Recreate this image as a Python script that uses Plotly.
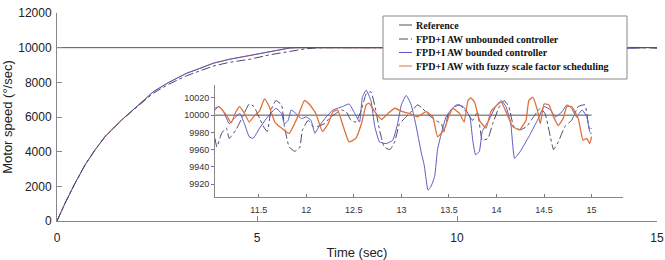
import plotly.graph_objects as go

# ---------------- data ----------------
# start-up transient (main axes)
t_rise = [0, 0.2, 0.45, 0.7, 0.95, 1.2, 1.62, 2.03, 2.41, 2.8, 3.24, 3.57, 3.91, 4.3, 4.82, 5.3, 5.82,
          6.0, 6.2, 6.45, 6.7, 7.5, 8.5, 9.5, 10.5]
rise_bounded = [0, 1020, 2175, 3230, 4100, 4865, 5830, 6690, 7460, 8000, 8520, 8800, 9100, 9320, 9550, 9780, 9980,
                10000, 10000, 10000, 10000, 10000, 10000, 10000, 10000]
rise_fuzzy = [0, 1020, 2175, 3230, 4100, 4870, 5840, 6700, 7470, 8010, 8530, 8810, 9110, 9330, 9560, 9790, 9985,
              10000, 10000, 10000, 10000, 10000, 10000, 10000, 10000]
rise_unbounded = [0, 1020, 2175, 3230, 4100, 4865, 5830, 6660, 7380, 7900, 8380, 8660, 8940, 9150, 9330, 9580, 9800,
                  9880, 9930, 9980, 10000, 10000, 10000, 10000, 10000]

# steady-state detail (inset, t = 11 ... 15 s)
t_fuzzy = [11.04, 11.08, 11.16, 11.21, 11.26, 11.30, 11.35, 11.40, 11.46, 11.51, 11.56, 11.61, 11.67, 11.74,
           11.82, 11.91, 11.98, 12.03, 12.10, 12.17, 12.23, 12.28, 12.33, 12.38, 12.45, 12.52, 12.58, 12.63,
           12.66, 12.72, 12.79, 12.86, 12.93, 13.01, 13.08, 13.17, 13.26, 13.33, 13.38, 13.45, 13.50, 13.54,
           13.61, 13.66, 13.70, 13.73, 13.77, 13.82, 13.89, 13.94, 13.99, 14.05, 14.10, 14.17, 14.24, 14.31,
           14.34, 14.38, 14.43, 14.46, 14.50, 14.55, 14.60, 14.65, 14.70, 14.74, 14.79, 14.86, 14.91, 14.95,
           14.98, 15.0]
v_fuzzy = [10008, 10010, 10000, 9991, 10004, 10010, 10002, 9992, 10000, 10005, 10019, 10010, 9992, 9985,
           9979, 9998, 10017, 10013, 10002, 9981, 9990, 10004, 10006, 9990, 9969, 9973, 9990, 10012,
           10014, 10004, 9995, 10002, 10008, 10004, 10002, 9998, 10004, 9998, 9975, 9983, 9999, 10008,
           10002, 9992, 10017, 10020, 10015, 9994, 9985, 10004, 10010, 10015, 10004, 9987, 9983, 9994,
           10017, 10021, 10006, 9990, 10013, 10012, 9998, 9988, 9996, 10010, 10010, 9996, 9971, 9973,
           9967, 9975]

t_bounded = [11.04, 11.08, 11.13, 11.19, 11.24, 11.30, 11.35, 11.40, 11.44, 11.51, 11.58, 11.65, 11.68, 11.74,
             11.77, 11.81, 11.84, 11.89, 11.95, 12.00, 12.05, 12.09, 12.14, 12.21, 12.28, 12.33, 12.38, 12.45,
             12.51, 12.56, 12.59, 12.63, 12.68, 12.72, 12.77, 12.84, 12.91, 12.96, 13.00, 13.05, 13.10, 13.15,
             13.21, 13.24, 13.28, 13.31, 13.35, 13.38, 13.43, 13.47, 13.52, 13.58, 13.65, 13.72, 13.75, 13.78,
             13.82, 13.85, 13.92, 13.99, 14.05, 14.10, 14.15, 14.19, 14.25, 14.34, 14.43, 14.50, 14.57, 14.62,
             14.69, 14.74, 14.79, 14.84, 14.90, 14.95, 14.98, 15.0]
v_bounded = [10006, 10010, 10004, 9990, 9996, 10002, 9990, 9975, 9973, 9985, 9996, 10005, 10008, 10002,
             9990, 9994, 10006, 10002, 9996, 9998, 9994, 9979, 9988, 9998, 10006, 10008, 10010, 10013,
             10002, 9992, 10021, 10029, 10017, 9987, 9969, 9967, 9971, 9990, 10012, 10023, 10013, 9990,
             9956, 9942, 9913, 9917, 9929, 9960, 9983, 9998, 10006, 10012, 10010, 9998, 9971, 9954,
             9958, 9981, 9994, 10010, 10017, 10010, 9990, 9950, 9958, 9975, 9994, 10010, 10006, 9998,
             10004, 10012, 10008, 9998, 10006, 9998, 9981, 9978]

t_unbounded = [11.04, 11.06, 11.11, 11.16, 11.19, 11.26, 11.33, 11.40, 11.45, 11.51, 11.56, 11.59, 11.63, 11.68,
               11.74, 11.77, 11.82, 11.88, 11.93, 11.96, 12.02, 12.07, 12.12, 12.19, 12.24, 12.31, 12.37, 12.42,
               12.47, 12.52, 12.58, 12.63, 12.68, 12.73, 12.77, 12.82, 12.88, 12.93, 12.98, 13.05, 13.12, 13.17,
               13.22, 13.29, 13.36, 13.42, 13.45, 13.49, 13.54, 13.61, 13.68, 13.75, 13.80, 13.85, 13.91, 13.96,
               14.03, 14.08, 14.13, 14.18, 14.25, 14.32, 14.39, 14.46, 14.51, 14.57, 14.60, 14.65, 14.72, 14.79,
               14.86, 14.93, 14.96, 14.98, 15.0]
v_unbounded = [9973, 9963, 9979, 9985, 9973, 9983, 9998, 10013, 10010, 9996, 9985, 9981, 10006, 10017,
               10012, 9987, 9963, 9958, 9962, 9983, 9994, 9987, 9987, 9990, 9996, 10002, 10006, 10004,
               9994, 9992, 10006, 10025, 10027, 10006, 9983, 9963, 9960, 9969, 9990, 9998, 10006, 10012,
               10008, 10000, 9994, 9990, 9981, 10000, 10008, 10012, 10004, 9994, 10004, 9971, 9973, 9990,
               10010, 10017, 10010, 9987, 9983, 9987, 9998, 10008, 10002, 9973, 9960, 9969, 9987, 9994,
               10010, 10012, 9994, 9983, 9985]

t_ref = [0, 15]
v_ref = [10000, 10000]
t_ref_inset = [11.04, 15]

names = ["Reference", "FPD+I AW unbounded controller", "FPD+I AW bounded controller",
         "FPD+I AW with fuzzy scale factor scheduling"]
main_xticks = [0, 5, 10, 15]
main_yticks = [0, 2000, 4000, 6000, 8000, 10000, 12000]
inset_xticks = [11.5, 12, 12.5, 13, 13.5, 14, 14.5, 15]
inset_xlabels = ["11.5", "12", "12.5", "13", "13.5", "14", "14.5", "15"]
inset_yticks = [9920, 9940, 9960, 9980, 10000, 10020]

# ---------------- styles ----------------
c_ref = "#555555"
c_unb = "#4a4a66"
c_bnd = "#5a5ac4"
c_fuz = "#e0703a"
colors = [c_ref, c_unb, c_bnd, c_fuz]
dashes = ["solid", "dashdot", "solid", "solid"]

W, H = 665, 260
ML, MR, MT, MB = 57, 8, 13, 39
PW, PH = W - ML - MR, H - MT - MB


def px_x(px):
    return (px - ML) / PW


def px_y(py):
    return (H - MB - py) / PH


fig = go.Figure()

# main axes traces (fuzzy drawn first so the darker lines sit on top)
fig.add_trace(go.Scatter(x=t_rise + t_fuzzy, y=rise_fuzzy + v_fuzzy, mode="lines", name=names[3],
                         line=dict(color=c_fuz, width=1), xaxis="x", yaxis="y"))
fig.add_trace(go.Scatter(x=t_rise + t_bounded, y=rise_bounded + v_bounded, mode="lines", name=names[2],
                         line=dict(color=c_bnd, width=1), xaxis="x", yaxis="y"))
fig.add_trace(go.Scatter(x=t_rise + t_unbounded, y=rise_unbounded + v_unbounded, mode="lines", name=names[1],
                         line=dict(color=c_unb, width=1, dash="dashdot"), xaxis="x", yaxis="y"))
fig.add_trace(go.Scatter(x=t_ref, y=v_ref, mode="lines", name=names[0],
                         line=dict(color=c_ref, width=1), xaxis="x", yaxis="y"))

# inset traces
fig.add_trace(go.Scatter(x=t_ref_inset, y=v_ref, mode="lines",
                         line=dict(color=c_ref, width=1), xaxis="x2", yaxis="y2"))
fig.add_trace(go.Scatter(x=t_unbounded, y=v_unbounded, mode="lines",
                         line=dict(color=c_unb, width=1, dash="dashdot", shape="spline", smoothing=0.4),
                         xaxis="x2", yaxis="y2"))
fig.add_trace(go.Scatter(x=t_bounded, y=v_bounded, mode="lines",
                         line=dict(color=c_bnd, width=1, shape="spline", smoothing=0.4), xaxis="x2", yaxis="y2"))
fig.add_trace(go.Scatter(x=t_fuzzy, y=v_fuzzy, mode="lines",
                         line=dict(color=c_fuz, width=1.3, shape="spline", smoothing=0.4), xaxis="x2", yaxis="y2"))

axis_font = dict(family="Liberation Sans, Arial, sans-serif", size=12, color="#222222")
inset_font = dict(family="Liberation Sans, Arial, sans-serif", size=9, color="#333333")
legend_font = dict(family="Liberation Serif, Times New Roman, serif", size=10, color="#111111", weight="bold")

# ---- legend box drawn by hand (compact, MATLAB style) ----
shapes = [dict(type="rect", xref="paper", yref="paper", x0=px_x(383), x1=px_x(627), y0=px_y(79), y1=px_y(16),
               line=dict(color="#888888", width=1), fillcolor="white", layer="above")]
annotations = []
row_y = [25, 39, 52.5, 66]
for i, nm in enumerate(names):
    shapes.append(dict(type="line", xref="paper", yref="paper", x0=px_x(399), x1=px_x(412),
                       y0=px_y(row_y[i]), y1=px_y(row_y[i]),
                       line=dict(color=colors[i], width=1, dash=dashes[i]), layer="above"))
    annotations.append(dict(text=nm, xref="paper", yref="paper", x=px_x(414), y=px_y(row_y[i]),
                            xanchor="left", yanchor="middle", showarrow=False, font=legend_font))

fig.update_layout(
    width=W, height=H,
    margin=dict(l=ML, r=MR, t=MT, b=MB, autoexpand=False),
    paper_bgcolor="white", plot_bgcolor="white",
    font=axis_font,
    showlegend=False,
    shapes=shapes,
    annotations=annotations,
    xaxis=dict(domain=[0, 1], range=[0, 15], tickvals=main_xticks, ticktext=[str(v) for v in main_xticks],
               ticks="inside", ticklen=5, tickcolor="#888888", showline=True, linecolor="#888888",
               linewidth=1, showgrid=False, zeroline=False, tickfont=axis_font, ticklabelstandoff=6,
               automargin=False,
               title=dict(text="Time (sec)", font=dict(family="Liberation Sans, Arial, sans-serif", size=13),
                          standoff=4)),
    yaxis=dict(domain=[0, 1], range=[0, 12000], tickvals=main_yticks, ticktext=[str(v) for v in main_yticks],
               ticks="inside", ticklen=5, tickcolor="#888888", showline=True, linecolor="#888888",
               linewidth=1, showgrid=False, zeroline=False, tickfont=axis_font, ticklabelstandoff=2,
               automargin=False,
               title=dict(text="Motor speed (°/sec)", font=dict(family="Liberation Sans, Arial, sans-serif", size=13),
                          standoff=4)),
    xaxis2=dict(domain=[0.2633, 0.9433], range=[11.04, 15.33], anchor="y2", tickvals=inset_xticks,
                ticktext=inset_xlabels, automargin=False,
                ticks="inside", ticklen=3, tickcolor="#777777", showline=True, linecolor="#888888",
                linewidth=1, showgrid=False, zeroline=False, tickfont=inset_font, ticklabelstandoff=4),
    yaxis2=dict(domain=[0.1154, 0.6538], range=[9905, 10035], anchor="x2", tickvals=inset_yticks,
                ticktext=[str(v) for v in inset_yticks], automargin=False,
                ticks="outside", ticklen=3, tickcolor="#777777", showline=True, linecolor="#888888",
                linewidth=1, showgrid=False, zeroline=False, tickfont=inset_font),
)

fig.write_html("out.html", config={"displayModeBar": False},
               post_script="document.body.style.margin='0px';")
